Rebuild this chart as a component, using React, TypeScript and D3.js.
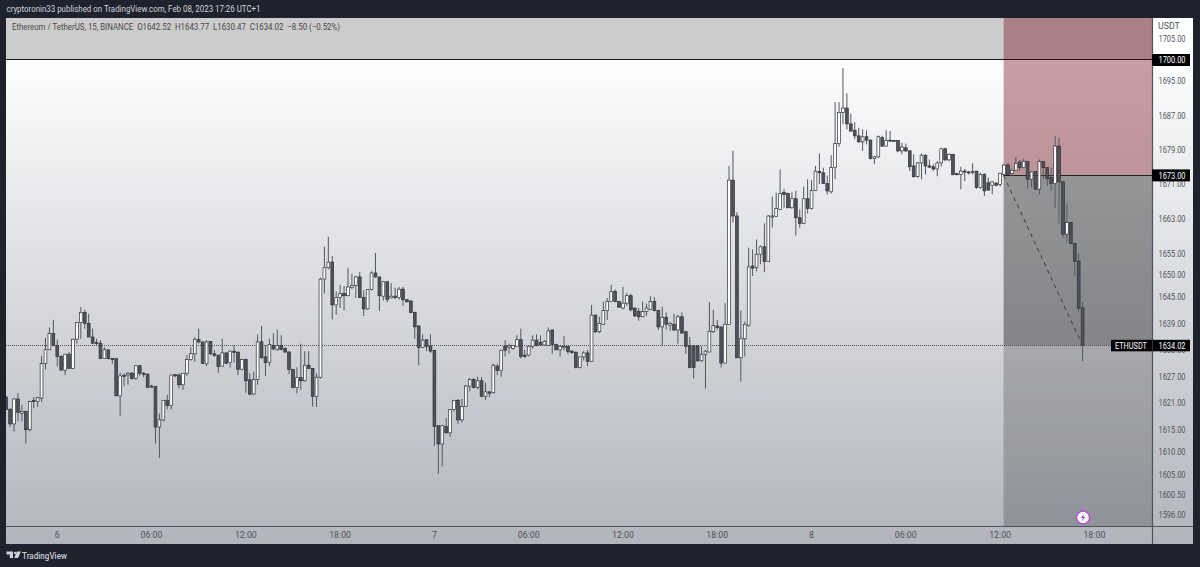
import React from "react";
import * as d3 from "d3";

const firstBar = -13; // bars counted from Feb 6 00:00, 15 minutes each
const opens = [
1622.3,1619.6,1616.3,1621.9,1618.7,1619.1,1615,1621.6,1621.3,1622.1,
1629.9,1633,1636.7,1634,1631.5,1628.4,1632,1628.8,1635.4,1639.2,
1641.5,1639,1635.9,1634.7,1634.5,1631,1633,1631,1631,1622.6,
1627.2,1627.3,1627.7,1626.5,1629.4,1627.7,1627.5,1624.8,1624.7,1615.6,
1617.2,1621.6,1620.4,1627.4,1627.3,1625.1,1627.7,1630.8,1632.1,1635.3,
1634.8,1629.8,1634.9,1632.1,1631.8,1629.3,1632.3,1630.1,1632.7,1632.5,
1628.6,1630.8,1626.2,1623,1626.3,1634.8,1631.4,1630.1,1634,1633,
1634,1633.3,1632.5,1628.6,1624.5,1626.7,1626,1629.5,1628.8,1622.5,
1626.8,1649.1,1651.7,1653,1643.2,1644.9,1645.8,1645.3,1647.2,1647.6,
1649.6,1644.9,1642.3,1646.7,1650.5,1649.6,1645.2,1648.5,1644.8,1645.2,
1644.9,1646.8,1644.4,1644.1,1641.5,1638.4,1633.5,1635.3,1633.9,1632.9,
1615.9,1611.8,1615.7,1614.3,1619.5,1621.6,1617.2,1620.2,1624.8,1626.3,
1624.5,1626,1622.5,1623.5,1623.3,1629.3,1628.3,1633.8,1633.6,1633.3,
1633.8,1635.3,1631.8,1631.8,1633.8,1635.2,1634.7,1634.1,1634,1637.5,
1634.2,1633,1633.6,1633.8,1632.7,1632.4,1629,1631.4,1632.3,1630.4,
1640.9,1637.1,1638.8,1641.9,1644,1646.3,1644,1642.5,1643.6,1645.3,
1642.5,1641.7,1640.5,1641.7,1642.2,1644,1641.9,1638.2,1640.4,1638.6,
1638.8,1637.5,1640.5,1637.1,1633.9,1633.9,1633.9,1630.5,1632,1632.5,
1637.1,1638.4,1638.2,1630,1638.8,1671.9,1663.6,1631.2,1635.5,1638.6,
1652.1,1651.7,1654.8,1656.5,1653.1,1663.5,1663.5,1665.1,1669,1668.8,
1665.5,1667.6,1663.2,1661.9,1667.6,1665.3,1669.5,1673.9,1673.6,1671.1,
1669.2,1674.8,1680.4,1687.7,1688.7,1685,1683.5,1682.2,1680.8,1682,
1681.2,1676.9,1677.3,1681.8,1679.8,1681.2,1681.1,1681.1,1678.7,1679.4,
1678.7,1675.2,1672.7,1675.9,1677.7,1675.2,1675,1674.5,1675.9,1679.2,
1676.6,1677.9,1673.4,1673.2,1674,1673.8,1673.8,1674,1670.2,1673.2,
1671.3,1670.7,1671.2,1670.9,1673.2,1675.4,1673.4,1674.2,1676.1,1674.8,
1676.2,1672.1,1673.9,1669.8,1676.2,1674.8,1672.5,1671.1,1679.8,1671.5,
1659.4,1662.1,1657.3,1653.2,1642.52];
const highs = [
1622.6,1619.8,1622.1,1623.2,1620.6,1619.3,1621.5,1622.3,1622.3,1631.6,
1635.7,1638.1,1639.8,1635.3,1631.8,1632.1,1632.5,1635.5,1639.2,1642.7,
1642.1,1641.2,1637.8,1635.5,1635.2,1633.6,1633,1631,1631,1627.8,
1627.7,1628,1628,1629.5,1629.5,1628,1627.7,1625.1,1624.7,1618.6,
1621.6,1622.8,1627.3,1627.5,1627.7,1627.7,1631.8,1633.6,1635.9,1637.8,
1634.8,1635.2,1635,1632.9,1631.8,1635.5,1632.5,1632.9,1634,1632.5,
1631,1631,1627.7,1628,1636.5,1638.4,1634,1635.5,1636.8,1637.6,
1636.3,1633.6,1632.7,1628.6,1629,1634.4,1632.7,1632.7,1628.8,1627.7,
1649.4,1656.5,1658.8,1654.4,1646.3,1647.8,1647.5,1651.7,1650.3,1649.8,
1650.7,1646.5,1646.7,1650.9,1655.1,1649.6,1648.6,1648.6,1648.2,1647.1,
1647.3,1647.3,1644.5,1644.2,1641.7,1638.6,1636.5,1635.3,1636.5,1632.9,
1615.9,1616.1,1617.6,1619.6,1621.6,1621.9,1621.9,1625.1,1626.6,1626.6,
1626.9,1626.8,1625.6,1623.6,1629.9,1629.8,1633,1635.2,1634.4,1634,
1636.3,1637.8,1633,1633.9,1636.3,1636.5,1636.3,1635.2,1638.1,1637.6,
1634.4,1634,1636.1,1633.9,1632.9,1632.7,1631.4,1632.7,1633,1643.2,
1640.9,1640.5,1644,1644.8,1647.8,1646.7,1644,1647.3,1645.9,1645.8,
1642.5,1642.5,1644,1643.5,1645.2,1645,1642.1,1642.8,1641.5,1639.4,
1641.2,1640.9,1641.5,1637.3,1635.9,1634,1634,1633.8,1633,1643.8,
1642.1,1639.8,1638.2,1643.6,1675.2,1678.7,1664.5,1641.9,1639.4,1656.3,
1655.9,1658.2,1656.8,1661.9,1663.8,1668.1,1669,1674.4,1669.9,1669,
1669.1,1669.4,1665.1,1670.4,1672.1,1671.9,1675.2,1678.1,1674.8,1673,
1677.7,1690.1,1690.1,1698.1,1692.2,1687.4,1685.4,1684.1,1683.7,1683.5,
1681.4,1677.5,1682.3,1682.2,1683.5,1683.3,1681.2,1681.1,1680.6,1680.4,
1678.9,1677.9,1676.1,1678.1,1677.9,1676.7,1675.6,1676.3,1679.4,1679.4,
1678.1,1678,1673.6,1675,1674.5,1674,1675.8,1674,1673.6,1673.5,
1672.5,1671.7,1671.5,1673.6,1675.6,1675.9,1674.6,1677.3,1676.6,1676.9,
1676.3,1674,1674,1676.7,1676.3,1674.8,1674.8,1682.2,1681.8,1671.7,
1666.5,1662.2,1657.5,1655,1643.77];
const lows = [
1619.5,1615.6,1614.6,1616.9,1616.9,1611.9,1614.6,1619.8,1620.1,1621.3,
1628.6,1633,1634,1629.2,1628.4,1627.3,1628.8,1628.8,1634.4,1635.5,
1637.8,1635.9,1634.4,1634,1631,1631,1630.8,1629.8,1622.6,1618,
1624.8,1625.1,1626.2,1626.2,1627.1,1626.8,1624.5,1624.5,1611.9,1608.7,
1616.9,1619.6,1619.6,1626.8,1624.3,1623.9,1627.1,1630.5,1630.3,1634.4,
1629.8,1629.3,1631.8,1631.4,1627.8,1629.2,1629.8,1629,1630.1,1627.3,
1628.4,1623.3,1622.7,1622.8,1625.1,1631,1627.1,1629.3,1632.9,1632.9,
1632.9,1632.3,1627.5,1624.3,1623.2,1623.9,1625.8,1628.6,1620.2,1620.1,
1626.5,1645.8,1651.3,1639.9,1640.9,1642.5,1641.9,1645.2,1646.8,1644.8,
1644.8,1640.7,1642.1,1646.5,1649.4,1641.8,1644.2,1643.8,1644.7,1644.5,
1644.4,1643,1643.8,1641.3,1635.5,1629.5,1633.5,1632.7,1632.3,1611.3,
1605.2,1606.8,1614.1,1613.4,1619.1,1616.3,1616.6,1620.1,1623.6,1624.3,
1624.1,1622.3,1621.6,1622.3,1623.2,1627.3,1626.9,1631.5,1632.1,1633,
1633.8,1631,1631.2,1631.5,1633.3,1633.8,1634,1633.9,1633.9,1632.1,
1632.9,1631.5,1632.9,1632,1632.1,1628.8,1628.8,1630.6,1629.3,1630.3,
1636.8,1636.8,1638.6,1639.8,1644,1643.8,1642.5,1642.2,1643,1641.7,
1640.5,1639.6,1640.5,1640.7,1642.1,1641.7,1637.5,1634,1637.6,1637.3,
1637.3,1634.4,1636.7,1632.1,1628.8,1626.5,1630.3,1630.3,1624.3,1632.5,
1636.8,1637.6,1629,1629.9,1638.8,1662.1,1631.2,1625.8,1631.5,1638.2,
1649.8,1650.9,1652.5,1650.7,1653,1660.9,1663.5,1665,1665.5,1665.5,
1665.3,1659.1,1660.9,1661.8,1664.2,1665.1,1669.4,1671,1671,1668.6,
1668.8,1672.1,1679.7,1684.9,1683.7,1683.3,1681.4,1680.6,1678.7,1680.2,
1676.7,1675.6,1677.1,1679.7,1679.7,1680.8,1680.8,1678.4,1677.9,1678.4,
1674,1672.5,1672.5,1672.1,1673.2,1674.8,1674,1672.8,1675,1676.3,
1676.3,1673,1673,1669.8,1671.7,1673.2,1673.2,1669.9,1669.9,1668.2,
1669.4,1668.6,1670.5,1670.4,1673.2,1673.1,1672.8,1674,1674,1674.6,
1669.9,1670.2,1669.6,1668.6,1672.2,1670.5,1669.4,1665.5,1661.9,1658.6,
1657.5,1657.1,1649.8,1641.7,1630.47];
const closes = [
1619.5,1616.3,1621.9,1618.9,1619.1,1615,1621.3,1621.3,1622.2,1629.9,
1633,1636.7,1634,1631.5,1628.4,1632,1628.8,1635.4,1639.2,1641.5,
1639,1635.9,1634.5,1634.4,1631,1633,1631,1630.9,1622.6,1627.1,
1627,1627.7,1626.5,1629.4,1627.7,1627.4,1624.5,1624.6,1615.6,1617.2,
1621.6,1620.4,1627.3,1627.1,1625.1,1627.7,1630.8,1632.1,1635.4,1634.8,
1629.9,1634.8,1632.1,1631.7,1629.2,1632.3,1629.9,1632.7,1632.4,1628.6,
1630.8,1626,1623,1626.3,1634.8,1631.2,1630.1,1634.2,1633.2,1634,
1633.1,1632.5,1628.6,1624.5,1626.7,1626,1629.5,1628.8,1622.5,1626.8,
1649.1,1651.7,1653,1643.2,1644.9,1645.8,1645.3,1647.3,1647.6,1649.6,
1644.9,1642.3,1646.7,1650.5,1649.6,1645.3,1648.5,1644.5,1645.2,1644.9,
1646.8,1644.4,1643.9,1641.5,1638.2,1633.5,1635.2,1633.8,1632.7,1615.7,
1611.8,1615.9,1614.3,1619.5,1621.6,1617.2,1620.2,1624.8,1626.3,1624.5,
1626,1622.5,1623.5,1623.2,1629.5,1628.3,1632.9,1632.9,1633.9,1634,
1635.3,1631.5,1631.5,1633.8,1635.2,1634,1634.1,1634.9,1637.3,1634.2,
1633,1633.8,1633.8,1632.6,1632.4,1629,1631.4,1632.3,1630.4,1640.9,
1637.1,1639,1641.9,1644,1646.3,1644,1642.7,1643.6,1645.3,1642.1,
1640.7,1640.5,1641.7,1642.5,1644,1641.9,1638.2,1640.4,1638.8,1639,
1637.5,1640.5,1636.8,1633.8,1629,1629,1630.5,1632,1632.7,1637.2,
1638.5,1638.1,1630,1638.8,1671.9,1663.6,1631.2,1635.5,1638.8,1651.9,
1651.6,1654.8,1656.5,1653.1,1663.6,1663.6,1665.3,1668.8,1668.6,1665.5,
1667.6,1663.2,1661.9,1667.6,1665.3,1669.5,1674,1673.6,1671.1,1669.4,
1674.8,1680.4,1687.7,1688.7,1685,1683.3,1682.2,1680.8,1682,1681.2,
1676.9,1677.3,1682,1679.8,1681.1,1681,1681,1678.7,1679.6,1678.7,
1675,1672.7,1675.9,1677.7,1675.2,1674.9,1674.5,1675.9,1679.2,1676.6,
1677.9,1673.2,1673.2,1674,1673.8,1673.6,1673.9,1670.2,1673.2,1669.4,
1669.6,1671.5,1670.7,1673.5,1675.4,1673.2,1674.2,1675.8,1674.8,1676.3,
1672.1,1673.8,1669.8,1676.2,1674.8,1672.2,1671.1,1679.8,1671.5,1659.4,
1662.1,1657.3,1653.2,1642.5,1634.02];

const priceTicks = [1705,1695,1687,1679,1671,1663,1655,1650,1645,1639,1633,1627,1621,1615,1610,1605,1600.5,1596];
const timeBars = [0,24,48,72,96,120,144,168,192,216,240,264];
const timeLabels = ["6","06:00","12:00","18:00","7","06:00","12:00","18:00","8","06:00","12:00","18:00"];
const stopPrice = 1700;
const entryPrice = 1673;
const lastPrice = 1634.02;
const zoneStartBar = 241;
const targetBar = 261;
const headerText = "cryptoronin33 published on TradingView.com, Feb 08, 2023 17:26 UTC+1";
const legendText = "Ethereum / TetherUS, 15, BINANCE  O1642.52  H1643.77  L1630.47  C1634.02  −8.50 (−0.52%)";

const FONT = "Roboto, 'Liberation Sans', sans-serif";
const W = 1200, H = 567;
const L = 6, R = 1193, T = 18, B = 544, PR = 1152, PB = 526;

const x = d3.scaleLinear().domain([firstBar, 261]).range([6.2, 1082.6]);
const y = d3.scaleLog().domain([1596, 1700]).range([515, 60]);

export default function App() {
  const zx = x(zoneStartBar) - 0.4;
  const yStop = Math.round(y(stopPrice)) - 0.5;
  const yEntry = Math.round(y(entryPrice)) + 0.5;
  const yLast = Math.round(y(lastPrice)) + 0.5;
  return (
    <svg width={W} height={H} style={{ position: "absolute", left: 0, top: 0, display: "block" }} fontFamily={FONT}>
      <defs>
        <linearGradient id="bg" gradientUnits="userSpaceOnUse" x1="0" y1="50" x2="0" y2={B}>
          <stop offset="0" stopColor="#ffffff" />
          <stop offset="1" stopColor="#b2b5be" />
        </linearGradient>
        <clipPath id="plot"><rect x={L} y={T} width={PR - L} height={PB - T} /></clipPath>
        <filter id="soft" x="-5%" y="-5%" width="110%" height="110%"><feGaussianBlur stdDeviation="0.3" /></filter>
      </defs>
      <rect width={W} height={H} fill="#1e222d" />
      <text x={6.5} y={11.5} fontSize={8.6} fill="#d1d4dc" textLength={254} lengthAdjust="spacingAndGlyphs">{headerText}</text>
      <rect x={L} y={T} width={R - L} height={B - T} fill="url(#bg)" />
      {/* zones */}
      <rect x={L} y={T} width={PR - L} height={yStop - T} fill="#000" fillOpacity={0.2} />
      <rect x={zx} y={T} width={PR - zx} height={yEntry - T} fill="#78101c" fillOpacity={0.4} />
      <rect x={zx} y={yEntry} width={PR - zx} height={yLast - yEntry} fill="#000" fillOpacity={0.37} />
      <rect x={zx} y={yLast} width={PR - zx} height={PB - yLast} fill="#000" fillOpacity={0.2} />
      <line x1={L} x2={PR} y1={yStop} y2={yStop} stroke="#1a1a1a" strokeWidth={1} />
      <line x1={zx} x2={PR} y1={yEntry} y2={yEntry} stroke="#222" strokeWidth={1} />
      <line x1={L} x2={1112} y1={yLast} y2={yLast} stroke="#555" strokeWidth={1} strokeDasharray="1 1" />
      <line x1={zx} x2={x(targetBar)} y1={yEntry} y2={yLast} stroke="#3a3a3a" strokeWidth={1} strokeDasharray="4 4" />
      {/* candles */}
      <g clipPath="url(#plot)">
        <g filter="url(#soft)">
          {opens.map((o, i) => {
            const c = closes[i];
            const cx = x(firstBar + i);
            const up = c >= o;
            const top = y(Math.max(o, c));
            const bot = y(Math.min(o, c));
            return (
              <g key={i}>
                <line x1={cx} x2={cx} y1={y(highs[i])} y2={y(lows[i])} stroke="#55585f" strokeWidth={1} />
                <rect x={cx - 1.4} y={top} width={2.8} height={Math.max(bot - top, 1)}
                  fill={up ? "#ffffff" : "#50535b"} stroke="#2f3138" strokeWidth={0.7} />
              </g>
            );
          })}
        </g>
      </g>
      {/* axes frame */}
      <line x1={PR + 0.5} x2={PR + 0.5} y1={T} y2={B} stroke="#50535b" strokeWidth={1.2} />
      <line x1={L} x2={R} y1={PB + 0.5} y2={PB + 0.5} stroke="#50535b" strokeWidth={1.2} />
      {/* price axis */}
      <text x={1158} y={29} fontSize={8.8} fill="#50535b">USDT</text>
      {priceTicks.map((p) => (
        <text key={p} x={1158.5} y={y(p) + 3.2} fontSize={8.8} fill="#50535b" textLength={27} lengthAdjust="spacingAndGlyphs">{p.toFixed(2)}</text>
      ))}
      {/* time axis */}
      {timeBars.map((b, i) => (
        <text key={i} x={x(b)} y={538.2} fontSize={8.8} fill="#50535b" textAnchor="middle">{timeLabels[i]}</text>
      ))}
      {/* price labels */}
      {[stopPrice, entryPrice].map((p) => (
        <g key={p}>
          <rect x={1152} y={y(p) - 6} width={38} height={12} fill="#000" />
          <text x={1158.5} y={y(p) + 3.2} fontSize={8.8} fill="#fff" textLength={27} lengthAdjust="spacingAndGlyphs">{p.toFixed(2)}</text>
        </g>
      ))}
      <rect x={1111} y={y(lastPrice) - 5.5} width={79} height={11.5} fill="#000" />
      <line x1={1152.5} x2={1152.5} y1={y(lastPrice) - 5.5} y2={y(lastPrice) + 6} stroke="#333" />
      <text x={1115} y={y(lastPrice) + 3.2} fontSize={8.8} fill="#fff" textLength={32} lengthAdjust="spacingAndGlyphs">ETHUSDT</text>
      <text x={1158.5} y={y(lastPrice) + 3.2} fontSize={8.8} fill="#fff" textLength={27} lengthAdjust="spacingAndGlyphs">{lastPrice.toFixed(2)}</text>
      {/* legend */}
      <text x={12} y={30} fontSize={8.8} fill="#4a4a4a" textLength={328} lengthAdjust="spacingAndGlyphs" xmlSpace="preserve">{legendText}</text>
      {/* lightning badge */}
      <circle cx={1083} cy={517.5} r={6.5} fill="#fff" stroke="#b24fd0" strokeWidth={1.4} />
      <path d="M1084.6 513.5 L1080.9 518 L1082.9 518 L1081.6 521.5 L1085.3 516.9 L1083.3 516.9 Z" fill="#a83cc8" />
      {/* logo */}
      <path d="M6.5 551.5 H13 V558 H9.8 V554.6 H6.5 Z M17 551.5 H21 L18 558 H14.2 Z" fill="#d1d4dc" />
      <circle cx={15.2} cy={553} r={1.3} fill="#d1d4dc" />
      <text x={22} y={558.5} fontSize={9.2} fontWeight={500} fill="#c9ccd4" textLength={45} lengthAdjust="spacingAndGlyphs">TradingView</text>
    </svg>
  );
}
